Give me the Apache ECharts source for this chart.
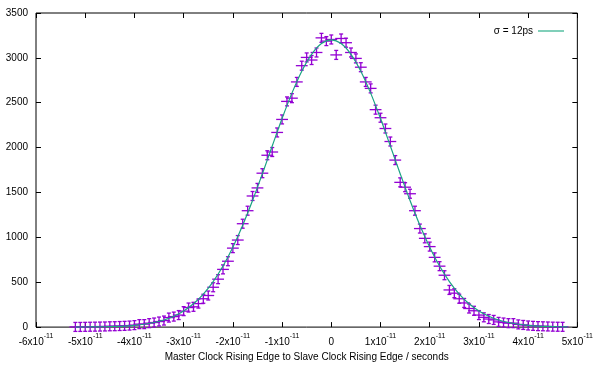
<!DOCTYPE html>
<html>
<head>
<meta charset="utf-8">
<script src="https://cdn.jsdelivr.net/npm/echarts@6/dist/echarts.min.js"></script>
<style>
  html, body { margin: 0; padding: 0; background: #fff; }
  #chart { width: 596px; height: 367px; }
</style>
</head>
<body>
<div id="chart"></div>
<script>
// bin centres in picoseconds (axis is labelled in seconds, x10^-11)
const binPs = [
  -52, -51, -50, -49, -48, -47, -46, -45, -44, -43, -42, -41, -40, -39, -38, -37, -36, -35, -34, -33,
  -32, -31, -30, -29, -28, -27, -26, -25, -24, -23, -22, -21, -20, -19, -18, -17, -16, -15, -14, -13,
  -12, -11, -10, -9, -8, -7, -6, -5, -4, -3, -2, -1, 0, 1, 2, 3, 4, 5, 6, 7,
  8, 9, 10, 11, 12, 13, 14, 15, 16, 17, 18, 19, 20, 21, 22, 23, 24, 25, 26, 27,
  28, 29, 30, 31, 32, 33, 34, 35, 36, 37, 38, 39, 40, 41, 42, 43, 44, 45, 46, 47
];
const counts = [
  2, 2, 3, 4, 5, 6, 7, 9, 10, 12, 14, 17, 22, 33, 33, 44, 51, 62, 73, 106,
  117, 134, 178, 218, 226, 262, 316, 352, 444, 534, 643, 734, 880, 970, 1152, 1297, 1461, 1551, 1715, 1915,
  1951, 2169, 2314, 2515, 2551, 2732, 2913, 3005, 2976, 3060, 3223, 3187, 3205, 3033, 3216, 3169, 3060, 2994, 2896, 2732,
  2660, 2423, 2333, 2213, 2068, 1861, 1613, 1559, 1486, 1297, 1098, 989, 897, 777, 679, 578, 414, 378, 316, 269,
  207, 182, 134, 109, 90, 80, 58, 51, 44, 44, 30, 24, 18, 14, 11, 9, 7, 5, 4, 3
];
const fitPs = [
  -52, -50, -48, -46, -44, -42, -40, -38, -36, -34, -32, -30, -28, -26, -24, -22, -20, -18, -16, -14, -12, -10, -8, -6, -4, -2,
  0, 2, 4, 6, 8, 10, 12, 14, 16, 18, 20, 22, 24, 26, 28, 30, 32, 34, 36, 38, 40, 42, 44, 46, 48
];
const fitCounts = [
  0.6, 1, 2, 4, 7, 11, 19, 32, 51, 79, 121, 180, 260, 368, 507, 680, 890, 1135, 1410, 1709, 2018, 2324, 2607, 2852, 3040, 3159,
  3200, 3159, 3040, 2852, 2607, 2324, 2018, 1709, 1410, 1135, 890, 680, 507, 368, 260, 180, 121, 79, 51, 32, 19, 11, 7, 4, 2
];
const fitLabel = 'σ = 12ps';
const xErrPs = 1.2;
const yErr = 50;

const FONT = 'Liberation Sans, Arial, sans-serif';
const chart = echarts.init(document.getElementById('chart'));

const tickCommon = {
  min: -60, max: 50, interval: 10,
  axisLine: { show: false, onZero: false },
  axisTick: { inside: true, length: 5, lineStyle: { color: '#000', width: 1 } },
  splitLine: { show: false }
};
const yTickCommon = {
  type: 'value', min: 0, max: 3500, interval: 500,
  axisLine: { show: false, onZero: false },
  axisTick: { inside: true, length: 5, lineStyle: { color: '#000', width: 1 } },
  splitLine: { show: false }
};

const option = {
  animation: false,
  backgroundColor: '#fff',
  grid: { left: 36, right: 16, top: 13, bottom: 33, show: true, borderColor: '#000', borderWidth: 1 },
  legend: {
    data: [{ name: fitLabel, icon: 'rect' }],
    right: 27, top: 21, align: 'right',
    itemWidth: 26, itemHeight: 1, selectedMode: false,
    textStyle: { fontSize: 10, color: '#000', fontFamily: FONT }
  },
  xAxis: [
    Object.assign({
      type: 'value', position: 'bottom',
      name: 'Master Clock Rising Edge to Slave Clock Rising Edge / seconds',
      nameLocation: 'middle', nameGap: 23,
      nameTextStyle: { fontSize: 10, color: '#000', fontFamily: FONT },
      axisLabel: {
        margin: 5, color: '#000', fontFamily: FONT,
        formatter: function (v) {
          if (v === 0) return '{m|0}';
          return '{m|' + (v / 10) + 'x10}{e|-11}';
        },
        rich: {
          m: { fontSize: 10, fontFamily: FONT, color: '#000', lineHeight: 15, verticalAlign: 'bottom' },
          e: { fontSize: 7, fontFamily: FONT, color: '#000', lineHeight: 8, verticalAlign: 'top' }
        }
      }
    }, tickCommon),
    Object.assign({ type: 'value', position: 'top', axisLabel: { show: false } }, tickCommon)
  ],
  yAxis: [
    Object.assign({
      position: 'left',
      axisLabel: { margin: 8, fontSize: 10, color: '#000', fontFamily: FONT, formatter: v => String(v) }
    }, yTickCommon),
    Object.assign({ position: 'right', axisLabel: { show: false } }, yTickCommon)
  ],
  series: [
    {
      type: 'custom',
      name: 'data',
      xAxisIndex: 0, yAxisIndex: 0,
      clip: false,
      z: 2,
      data: binPs.map((x, i) => [x, counts[i]]),
      renderItem: function (params, api) {
        const x = api.value(0), y = api.value(1);
        const c = api.coord([x, y]);
        const l = api.coord([x - xErrPs, y]);
        const r = api.coord([x + xErrPs, y]);
        const t = api.coord([x, y + yErr]);
        const b = api.coord([x, y - yErr]);
        const cap = 2;
        const style = { stroke: '#9400d3', lineWidth: 1.3, fill: null };
        return {
          type: 'group',
          children: [
            { type: 'line', shape: { x1: l[0], y1: c[1], x2: r[0], y2: c[1] }, style: style },
            { type: 'line', shape: { x1: c[0], y1: t[1], x2: c[0], y2: b[1] }, style: style },
            { type: 'line', shape: { x1: c[0] - cap, y1: t[1], x2: c[0] + cap, y2: t[1] }, style: style },
            { type: 'line', shape: { x1: c[0] - cap, y1: b[1], x2: c[0] + cap, y2: b[1] }, style: style }
          ]
        };
      }
    },
    {
      type: 'line',
      name: fitLabel,
      xAxisIndex: 0, yAxisIndex: 0,
      z: 3,
      smooth: 0.3,
      symbol: 'none',
      data: fitPs.map((x, i) => [x, fitCounts[i]]),
      lineStyle: { color: '#1aa383', width: 1.2 },
      itemStyle: { color: '#009e73' }
    }
  ]
};

chart.setOption(option);
</script>
</body>
</html>
